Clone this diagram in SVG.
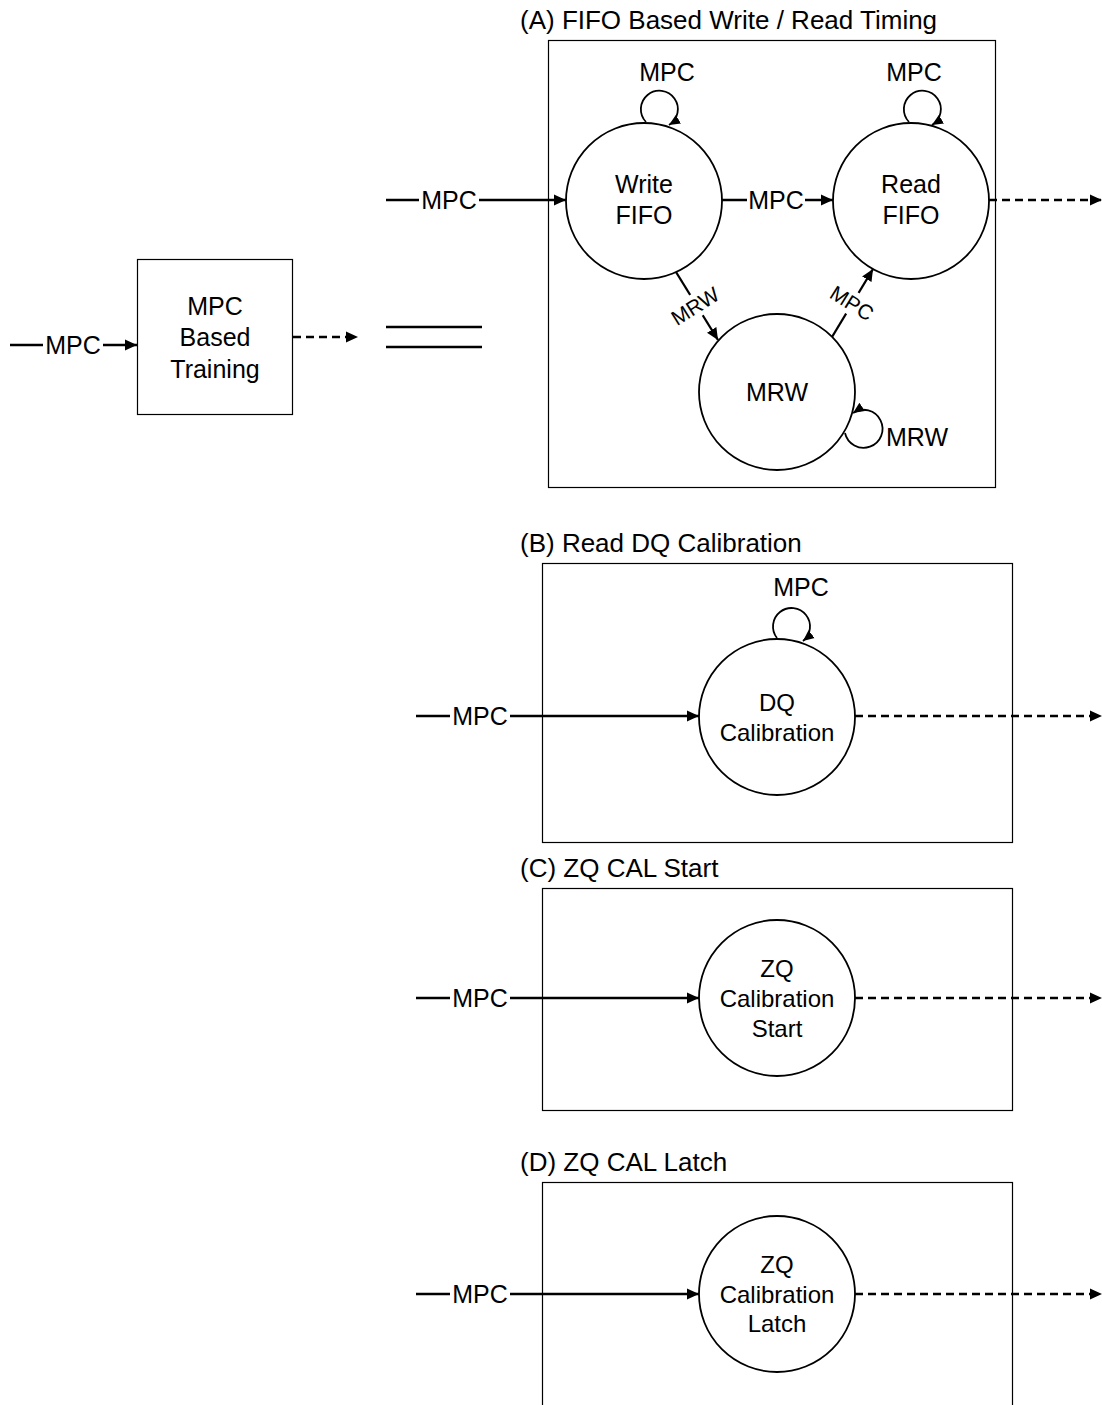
<svg xmlns="http://www.w3.org/2000/svg" width="1102" height="1405" viewBox="0 0 1102 1405">
<style>
text{font-family:"Liberation Sans",Arial,sans-serif;fill:#000;text-anchor:middle}
.t{font-size:26px;text-anchor:start}
.n{font-size:25px}
.s{font-size:24px}
.r{font-size:21px}
.box{fill:none;stroke:#000;stroke-width:1.2}
.st{fill:#fff;stroke:#000;stroke-width:1.8}
.e{fill:none;stroke:#000;stroke-width:2.3}
.lp{fill:none;stroke:#000;stroke-width:1.8}
.d{fill:none;stroke:#000;stroke-width:2.3;stroke-dasharray:8 5}
.bg{fill:#fff;stroke:none}
</style>
<defs>
<marker id="ah" markerUnits="userSpaceOnUse" markerWidth="14" markerHeight="14" refX="12" refY="7" orient="auto">
<path d="M0,1.5 L12,7 L0,12.5 z" fill="#000"/>
</marker>
<marker id="ahs" markerUnits="userSpaceOnUse" markerWidth="13" markerHeight="12" refX="11" refY="6" orient="auto">
<path d="M0,1 L11,6 L0,11 z" fill="#000"/>
</marker>
</defs>
<rect width="1102" height="1405" fill="#fff"/>

<g id="frames">
<text class="t" x="520" y="29">(A) FIFO Based Write / Read Timing</text>
<rect class="box" x="548.5" y="40.5" width="447" height="447"/>
<text class="t" x="520" y="552">(B) Read DQ Calibration</text>
<rect class="box" x="542.5" y="563.5" width="470" height="279"/>
<text class="t" x="520" y="877">(C) ZQ CAL Start</text>
<rect class="box" x="542.5" y="888.5" width="470" height="222"/>
<text class="t" x="520" y="1171">(D) ZQ CAL Latch</text>
<rect class="box" x="542.5" y="1182.5" width="470" height="260"/>
</g>

<g id="connectors">
<!-- left block -->
<line class="e" x1="10" y1="345" x2="137" y2="345" marker-end="url(#ah)"/>
<rect class="bg" x="43" y="332" width="60" height="26"/>
<text class="n" x="73" y="354">MPC</text>
<line class="d" x1="293" y1="337" x2="358" y2="337" marker-end="url(#ah)"/>
<line class="e" x1="386" y1="327" x2="482" y2="327"/>
<line class="e" x1="386" y1="347" x2="482" y2="347"/>

<!-- A -->
<line class="e" x1="386" y1="200" x2="566" y2="200" marker-end="url(#ah)"/>
<rect class="bg" x="419" y="187" width="60" height="26"/>
<text class="n" x="449" y="209">MPC</text>
<line class="e" x1="722" y1="200" x2="833" y2="200" marker-end="url(#ah)"/>
<rect class="bg" x="747" y="187" width="58" height="26"/>
<text class="n" x="776" y="209">MPC</text>
<line class="d" x1="989" y1="200" x2="1102" y2="200" marker-end="url(#ah)"/>
<path class="lp" d="M646,122 A18.5,18.5 0 1 1 669,125" marker-end="url(#ahs)"/>
<text class="n" x="667" y="81">MPC</text>
<path class="lp" d="M909,122 A18.5,18.5 0 1 1 932,125" marker-end="url(#ahs)"/>
<text class="n" x="914" y="81">MPC</text>
<line class="e" x1="676" y1="272" x2="718" y2="340" marker-end="url(#ah)"/>
<g transform="translate(695,306) rotate(-32)">
<rect class="bg" x="-29" y="-12" width="58" height="24"/>
<text class="r" x="0" y="7.5">MRW</text>
</g>
<line class="e" x1="832" y1="337" x2="873" y2="269" marker-end="url(#ah)"/>
<g transform="translate(852,303) rotate(32)">
<rect class="bg" x="-26" y="-12" width="52" height="24"/>
<text class="r" x="0" y="7.5">MPC</text>
</g>
<path class="lp" d="M845,433 A19,19 0 1 0 853,413" marker-end="url(#ahs)"/>
<text class="n" x="917" y="446">MRW</text>

<!-- B -->
<line class="e" x1="416" y1="716" x2="699" y2="716" marker-end="url(#ah)"/>
<rect class="bg" x="450" y="703" width="60" height="26"/>
<text class="n" x="480" y="725">MPC</text>
<line class="d" x1="855" y1="716" x2="1102" y2="716" marker-end="url(#ah)"/>
<path class="lp" d="M777,638 A18.5,18.5 0 1 1 803,641" marker-end="url(#ahs)"/>
<text class="n" x="801" y="596">MPC</text>

<!-- C -->
<line class="e" x1="416" y1="998" x2="699" y2="998" marker-end="url(#ah)"/>
<rect class="bg" x="450" y="985" width="60" height="26"/>
<text class="n" x="480" y="1007">MPC</text>
<line class="d" x1="855" y1="998" x2="1102" y2="998" marker-end="url(#ah)"/>

<!-- D -->
<line class="e" x1="416" y1="1294" x2="699" y2="1294" marker-end="url(#ah)"/>
<rect class="bg" x="450" y="1281" width="60" height="26"/>
<text class="n" x="480" y="1303">MPC</text>
<line class="d" x1="855" y1="1294" x2="1102" y2="1294" marker-end="url(#ah)"/>
</g>

<g id="training">
<rect class="box" x="137.5" y="259.5" width="155" height="155" stroke-width="1.4"/>
<text class="n" x="215" y="315">MPC</text>
<text class="n" x="215" y="346">Based</text>
<text class="n" x="215" y="378">Training</text>
</g>

<g id="write-fifo">
<circle class="st" cx="644" cy="201" r="78"/>
<text class="n" x="644" y="193">Write</text>
<text class="n" x="644" y="224">FIFO</text>
</g>
<g id="read-fifo">
<circle class="st" cx="911" cy="201" r="78"/>
<text class="n" x="911" y="193">Read</text>
<text class="n" x="911" y="224">FIFO</text>
</g>
<g id="mrw">
<circle class="st" cx="777" cy="392" r="78"/>
<text class="n" x="777" y="401">MRW</text>
</g>
<g id="dq-cal">
<circle class="st" cx="777" cy="717" r="78"/>
<text class="s" x="777" y="711">DQ</text>
<text class="s" x="777" y="741">Calibration</text>
</g>
<g id="zq-start">
<circle class="st" cx="777" cy="998" r="78"/>
<text class="s" x="777" y="977">ZQ</text>
<text class="s" x="777" y="1007">Calibration</text>
<text class="s" x="777" y="1037">Start</text>
</g>
<g id="zq-latch">
<circle class="st" cx="777" cy="1294" r="78"/>
<text class="s" x="777" y="1273">ZQ</text>
<text class="s" x="777" y="1303">Calibration</text>
<text class="s" x="777" y="1332">Latch</text>
</g>
</svg>
